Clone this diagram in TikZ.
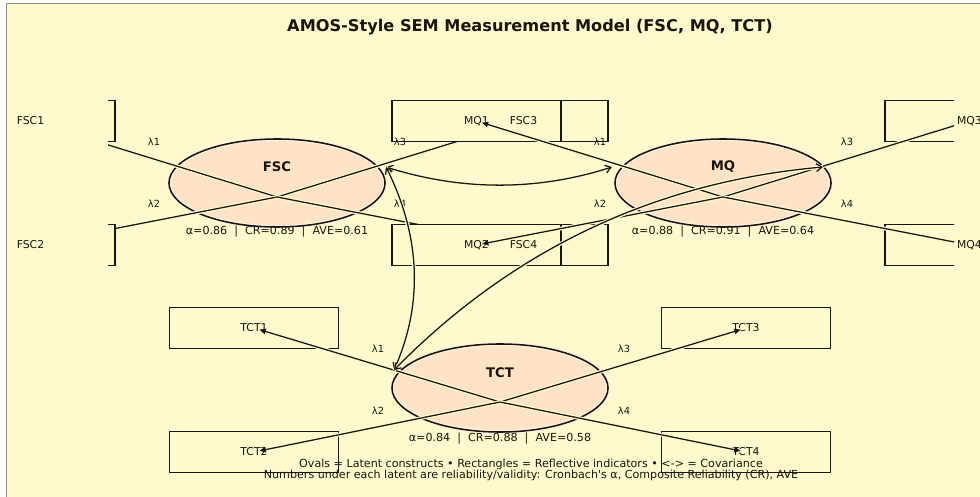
\documentclass[tikz,border=0pt]{standalone}
\usepackage{fontspec}
\setmainfont{DejaVu Sans}
\usetikzlibrary{shapes.geometric,arrows.meta,calc}
\definecolor{semyel}{RGB}{255,250,205}
\definecolor{sempeach}{RGB}{255,227,198}
\definecolor{semhalo}{RGB}{255,242,222}
\definecolor{semink}{RGB}{28,20,8}
\definecolor{semframe}{RGB}{140,140,140}

\begin{document}
\begin{tikzpicture}[x=0.025cm, y=-0.025cm, line width=0.9pt, semink,
  latent/.style={ellipse, inner sep=0pt, minimum width=5.4cm, minimum height=2.2cm, fill=sempeach,
    postaction={draw=semhalo, line width=3pt}, postaction={draw=semink, line width=1.1pt}},
  indbox/.style={rectangle, inner sep=0pt, minimum width=4.225cm, minimum height=1.03cm, draw=semink, fill=semyel},
  load/.style={-{Triangle[length=4.5pt,width=3.8pt]}, shorten >=4pt, preaction={draw=semyel, line width=2.6pt, -}},
  cov/.style={{Straight Barb[length=4pt,width=5.5pt]}-{Straight Barb[length=4pt,width=5.5pt]},
    preaction={draw=semyel, line width=2.6pt, -}},
  lvname/.style={font=\fontsize{9.4}{11}\selectfont\bfseries},
  ind/.style={inner sep=0pt, font=\fontsize{7.7}{9}\selectfont},
  lam/.style={inner sep=0pt, font=\fontsize{7}{8}\selectfont},
  stats/.style={inner sep=0pt, font=\fontsize{7.9}{9}\selectfont},
  note/.style={inner sep=0pt, font=\fontsize{7.9}{9}\selectfont}]
  \useasboundingbox (0,0) rectangle (980,497);
  \fill[white] (0,0) rectangle (980,497);
  \fill[semyel] (6.5,3.5) rectangle (980,497);
  \draw[semframe, line width=1.2pt] (6.5,497) -- (6.5,3.5) -- (980,3.5);
  \node[font=\fontsize{11.5}{13}\selectfont\bfseries] (title) at (530,27) {AMOS-Style SEM Measurement Model (FSC, MQ, TCT)};
  % latent constructs
  \node[latent] (FSC) at (277,183) {};
  \node[latent] (MQ) at (723,183) {};
  \node[latent] (TCT) at (500,388) {};
  \node[lvname] (FSCname) at (277,167) {FSC};
  \node[lvname] (MQname) at (723,167) {MQ};
  \node[lvname] (TCTname) at (500,373) {TCT};
  \node[stats] (FSCrel) at (277,232) {α=0.86\ \ |\ \ CR=0.89\ \ |\ \ AVE=0.61};
  \node[stats] (MQrel) at (723,232) {α=0.88\ \ |\ \ CR=0.91\ \ |\ \ AVE=0.64};
  \node[stats] (TCTrel) at (500,439) {α=0.84\ \ |\ \ CR=0.88\ \ |\ \ AVE=0.58};
  \coordinate (fscC) at (277,197);
  \coordinate (mqC) at (723,197);
  \coordinate (tctC) at (500,402);
  % indicator centres
  \coordinate (f1) at (30.5,121);
  \coordinate (f2) at (30.5,245);
  \coordinate (f3) at (523.5,121);
  \coordinate (f4) at (523.5,245);
  \coordinate (m1) at (476.5,121);
  \coordinate (m2) at (476.5,245);
  \coordinate (m3) at (969.5,121);
  \coordinate (m4) at (969.5,245);
  \coordinate (t1) at (254,328);
  \coordinate (t2) at (254,452);
  \coordinate (t3) at (746,328);
  \coordinate (t4) at (746,452);
  \begin{scope}
    \clip (108,0) rectangle (954,497);
    \draw[load] (fscC) -- (f1);
    \draw[load] (fscC) -- (f2);
    \draw[load] (fscC) -- (f3);
    \draw[load] (fscC) -- (f4);
    \node[indbox] (boxF1) at (f1) {};
    \node[indbox] (boxF2) at (f2) {};
    \node[indbox] (boxF3) at (f3) {};
    \node[indbox] (boxF4) at (f4) {};
    \node[indbox] (boxM1) at (m1) {};
    \node[indbox] (boxM2) at (m2) {};
    \node[indbox] (boxM3) at (m3) {};
    \node[indbox] (boxM4) at (m4) {};
  \end{scope}
  \node[indbox] (boxT1) at (t1) {};
  \node[indbox] (boxT2) at (t2) {};
  \node[indbox] (boxT3) at (t3) {};
  \node[indbox] (boxT4) at (t4) {};
  % indicator labels
  \node[ind] (FSC1) at (f1) {FSC1};
  \node[ind] (FSC2) at (f2) {FSC2};
  \node[ind] (FSC3) at (f3) {FSC3};
  \node[ind] (FSC4) at (f4) {FSC4};
  \node[ind] (MQ1) at (m1) {MQ1};
  \node[ind] (MQ2) at (m2) {MQ2};
  \node[ind] (MQ3) at (m3) {MQ3};
  \node[ind] (MQ4) at (m4) {MQ4};
  \node[ind] (TCT1) at (t1) {TCT1};
  \node[ind] (TCT2) at (t2) {TCT2};
  \node[ind] (TCT3) at (t3) {TCT3};
  \node[ind] (TCT4) at (t4) {TCT4};
  \begin{scope}
    \clip (108,0) rectangle (954,497);
    \draw[load] (mqC) -- (m1);
    \draw[load] (mqC) -- (m2);
    \draw[load] (mqC) -- (m3);
    \draw[load] (mqC) -- (m4);
  \end{scope}
  \draw[load] (tctC) -- (t1);
  \draw[load] (tctC) -- (t2);
  \draw[load] (tctC) -- (t3);
  \draw[load] (tctC) -- (t4);
  % loading labels
  \node[lam] (lf1) at (154,142) {λ1};
  \node[lam] (lf2) at (154,204) {λ2};
  \node[lam] (lf3) at (400,142) {λ3};
  \node[lam] (lf4) at (400,204) {λ4};
  \node[lam] (lm1) at (600,142) {λ1};
  \node[lam] (lm2) at (600,204) {λ2};
  \node[lam] (lm3) at (847,142) {λ3};
  \node[lam] (lm4) at (847,204) {λ4};
  \node[lam] (lt1) at (378,349) {λ1};
  \node[lam] (lt2) at (378,411) {λ2};
  \node[lam] (lt3) at (624,349) {λ3};
  \node[lam] (lt4) at (624,411) {λ4};
  % covariances
  \coordinate (fscR) at (386,167);
  \coordinate (mqL) at (612,167);
  \coordinate (mqR) at (823,167);
  \coordinate (tctL) at (394,370);
  \coordinate (q1) at (500,203);
  \coordinate (q2) at (438,271);
  \coordinate (q3) at (572,189);
  \draw[cov] (fscR) .. controls ($(fscR)!0.667!(q1)$) and ($(mqL)!0.667!(q1)$) .. (mqL);
  \draw[cov] (fscR) .. controls ($(fscR)!0.667!(q2)$) and ($(tctL)!0.667!(q2)$) .. (tctL);
  \draw[cov] (mqR) .. controls ($(mqR)!0.667!(q3)$) and ($(tctL)!0.667!(q3)$) .. (tctL);
  \node[note] (note1) at (531,464) {Ovals = Latent constructs • Rectangles = Reflective indicators • <-> = Covariance};
  \node[note] (note2) at (531,475) {Numbers under each latent are reliability/validity: Cronbach\textquotesingle s α, Composite Reliability (CR), AVE};
\end{tikzpicture}
\end{document}
